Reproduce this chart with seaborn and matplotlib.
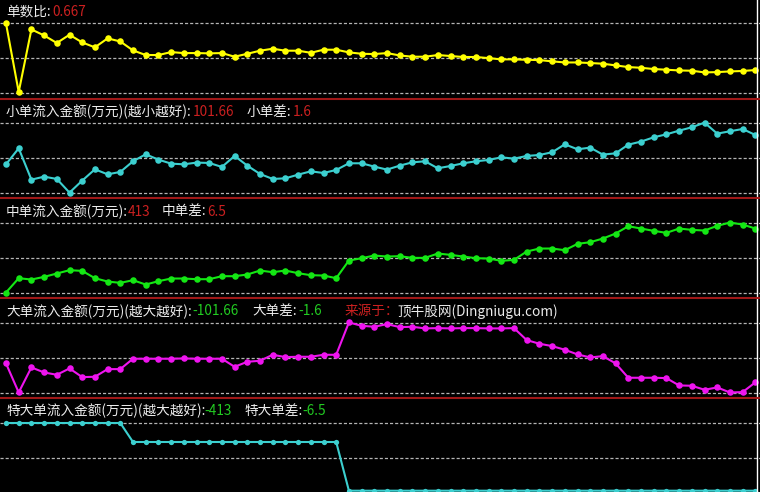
import numpy as np
import pandas as pd
import matplotlib
matplotlib.use("Agg")
import matplotlib.pyplot as plt
import seaborn as sns

# values, 60 bars per panel
ratio = [1.0, 0.51, 0.957, 0.914, 0.860, 0.919, 0.864, 0.829, 0.893, 0.871,
         0.807, 0.774, 0.774, 0.795, 0.788, 0.788, 0.786, 0.788, 0.762, 0.783,
         0.805, 0.819, 0.805, 0.805, 0.790, 0.812, 0.812, 0.793, 0.783, 0.781,
         0.788, 0.771, 0.762, 0.762, 0.774, 0.767, 0.760, 0.760, 0.752, 0.743,
         0.743, 0.740, 0.738, 0.729, 0.721, 0.721, 0.717, 0.712, 0.700, 0.688,
         0.683, 0.674, 0.669, 0.664, 0.662, 0.650, 0.652, 0.657, 0.660, 0.667]
small = [50.5, 78.4, 23.8, 29.0, 25.0, 1.2, 22.1, 41.8, 33.1, 37.2,
         55.8, 68.0, 58.7, 51.7, 50.5, 53.5, 52.9, 45.9, 65.1, 48.2,
         33.7, 25.0, 26.1, 32.5, 38.3, 35.4, 40.7, 52.3, 52.3, 46.5,
         41.3, 48.2, 54.0, 55.8, 43.6, 47.6, 52.3, 55.8, 58.1, 62.7,
         60.4, 65.1, 66.8, 71.5, 85.4, 76.7, 79.6, 67.4, 69.7, 84.8,
         90.1, 97.6, 102.8, 109.2, 115.0, 123.2, 104.0, 108.1, 112.1, 101.66]
medium = [4.3, 95.8, 87.3, 104.3, 125.6, 146.9, 142.6, 95.8, 74.5, 66.0,
          83.0, 55.3, 76.6, 93.7, 93.7, 89.4, 89.4, 108.6, 108.6, 119.2,
          144.7, 134.1, 144.7, 127.7, 114.9, 112.8, 95.8, 208.6, 223.5, 240.5,
          234.1, 236.3, 225.6, 225.6, 253.3, 244.8, 234.1, 223.5, 221.4, 206.5,
          212.9, 266.1, 285.2, 285.2, 274.6, 315.0, 325.7, 349.1, 381.0, 427.8,
          413.0, 398.0, 385.3, 413.0, 404.4, 400.2, 430.0, 451.3, 438.5, 413.0]
large = [-69.1, -118.9, -76.0, -84.6, -88.6, -77.7, -92.6, -92.0, -78.9, -78.9,
         -61.1, -61.1, -61.1, -61.1, -60.6, -61.1, -61.1, -61.1, -74.9, -66.3,
         -64.6, -54.3, -58.3, -57.7, -57.7, -54.3, -54.3, 1.1, -4.6, -6.3,
         -1.7, -6.9, -6.3, -9.1, -8.6, -9.1, -8.6, -8.6, -9.1, -9.1,
         -8.6, -29.1, -35.4, -39.4, -45.7, -53.7, -58.9, -56.6, -69.1, -93.7,
         -93.7, -93.7, -94.3, -106.9, -107.4, -114.3, -110.3, -118.9, -118.3, -101.66]
xlarge = [0.0] * 10 + [-115.9] * 17 + [-413.0] * 33

# grid levels (bottom, top) per panel
levels = [(0.5, 1.0), (0.0, 122.0), (0.0, 447.0), (-120.0, 0.0), (-427.0, 0.0)]

# title pieces: text, colour key, x in px
WH, RD, GR = "#ececec", "#cc2020", "#22cc22"
titles = [
    [("单数比:", WH, 6), ("0.667", RD, 52)],
    [("小单流入金额(万元)(越小越好):", WH, 6), ("101.66", RD, 193),
     ("小单差:", WH, 247), ("1.6", RD, 293)],
    [("中单流入金额(万元):", WH, 6), ("413", RD, 128),
     ("中单差:", WH, 162), ("6.5", RD, 207)],
    [("大单流入金额(万元)(越大越好):", WH, 6), ("-101.66", GR, 192),
     ("大单差:", WH, 252), ("-1.6", GR, 298), ("来源于：", RD, 345),
     ("顶牛股网(Dingniugu.com)", WH, 397)],
    [("特大单流入金额(万元)(越大越好):", WH, 6), ("-413", GR, 204),
     ("特大单差:", WH, 244), ("-6.5", GR, 302)],
]

series = [ratio, small, medium, large, xlarge]
colors = ["#ffff00", "#3ccfcf", "#14e614", "#ee14ee", "#3ccfcf"]

sns.set_theme(style="dark", rc={"figure.facecolor": "black",
                                "axes.facecolor": "black"})
plt.rcParams["font.family"] = ["Noto Sans CJK SC", "DejaVu Sans"]

W, H = 760, 492
PANEL_H = 99.9
X0, DX = 6.0, 12.7
fig = plt.figure(figsize=(W / 100, H / 100), dpi=100)

for k, vals in enumerate(series):
    top = -1.3 + PANEL_H * k
    ax = fig.add_axes([0, 1 - (top + PANEL_H) / H, 1, PANEL_H / H])
    df = pd.DataFrame({"i": np.arange(len(vals)), "v": vals})
    ms = 3.8 if k == 4 else 4.7
    sns.lineplot(data=df, x="i", y="v", ax=ax, color=colors[k], marker="o",
                 markersize=ms, markeredgewidth=0, linewidth=1.5)
    lo, hi = levels[k]
    span = hi - lo
    ax.set_xlim(-X0 / DX, (W - X0) / DX)
    ax.set_ylim(lo - span * 5.2 / 70, hi + span * 24.7 / 70)
    for g in (lo, (lo + hi) / 2, hi):
        ax.axhline(g, color="#b4b4b4", lw=0.9, dashes=(2.5, 1.6), zorder=0)
    ax.axvline(59.1, color="white", lw=1.0)
    ax.set_xticks([])
    ax.set_yticks([])
    ax.set_xlabel("")
    ax.set_ylabel("")
    for side in ("left", "right", "bottom"):
        ax.spines[side].set_visible(False)
    ax.spines["top"].set_color("#a01818")
    ax.spines["top"].set_linewidth(1.5)
    for s, c, x in titles[k]:
        fig.text(x / W, 1 - (top + 13.0) / H, s, color=c, fontsize=9.8,
                 va="center", ha="left")

fig.savefig("out.png", dpi=100, facecolor="black")
